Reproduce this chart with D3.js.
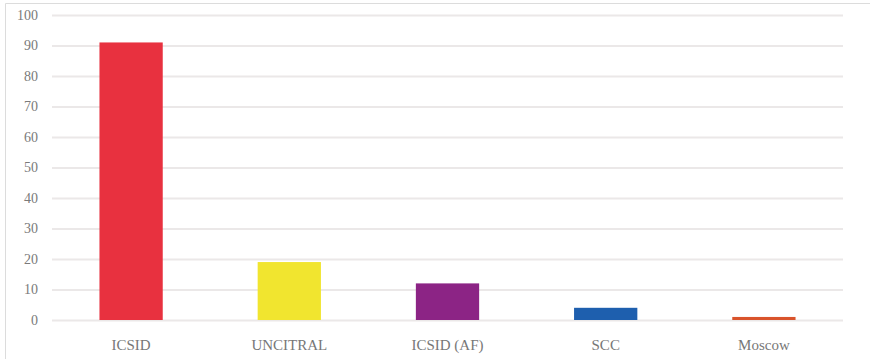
<!DOCTYPE html>
<html><head><meta charset="utf-8">
<script src="https://cdn.jsdelivr.net/npm/d3@7"></script>
<style>body{margin:0;background:#fff}</style>
</head><body><svg id="c" width="870" height="359"></svg>
<script>
const categories = ["ICSID", "UNCITRAL", "ICSID (AF)", "SCC", "Moscow"];
const values = [91, 19, 12, 4, 1];
const colors = ["#e8313f", "#f1e52f", "#8c2485", "#1e5fae", "#d9532b"];
const yTicks = [0, 10, 20, 30, 40, 50, 60, 70, 80, 90, 100];

const svg = d3.select("#c");
const m = {l: 52, r: 27, t: 15, b: 39};
const W = 870, H = 359;

// frame
svg.append("path").attr("d", `M5.5,359 V3.5 H870`).attr("fill","none").attr("stroke","#dcdcdc").attr("stroke-width",1);

const x = d3.scaleBand().domain(categories).range([m.l, W - m.r]).paddingInner(0.6).paddingOuter(0.3);
const y = d3.scaleLinear().domain([0, 100]).range([H - m.b, m.t]);

const ya = svg.append("g").attr("transform", `translate(${m.l},0)`)
  .call(d3.axisLeft(y).tickValues(yTicks).tickSize(-(W - m.r - m.l)).tickPadding(14));
ya.select(".domain").remove();
ya.selectAll(".tick line").attr("stroke", "#ebe8e8").attr("stroke-width", 2);
ya.selectAll(".tick text").attr("fill", "#7a7a7a").style("font-family", "'Liberation Serif', serif").style("font-size", "14px");

svg.append("g").selectAll("rect").data(values).join("rect")
  .attr("x", (d, i) => x(categories[i]))
  .attr("width", x.bandwidth())
  .attr("y", d => y(d))
  .attr("height", d => y(0) - y(d))
  .attr("fill", (d, i) => colors[i]);

const xa = svg.append("g").attr("transform", `translate(0,${H - m.b})`)
  .call(d3.axisBottom(x).tickSize(0).tickPadding(19));
xa.select(".domain").remove();
xa.selectAll(".tick text").attr("fill", "#777").style("font-family", "'Liberation Serif', serif").style("font-size", "15px");
</script></body></html>
